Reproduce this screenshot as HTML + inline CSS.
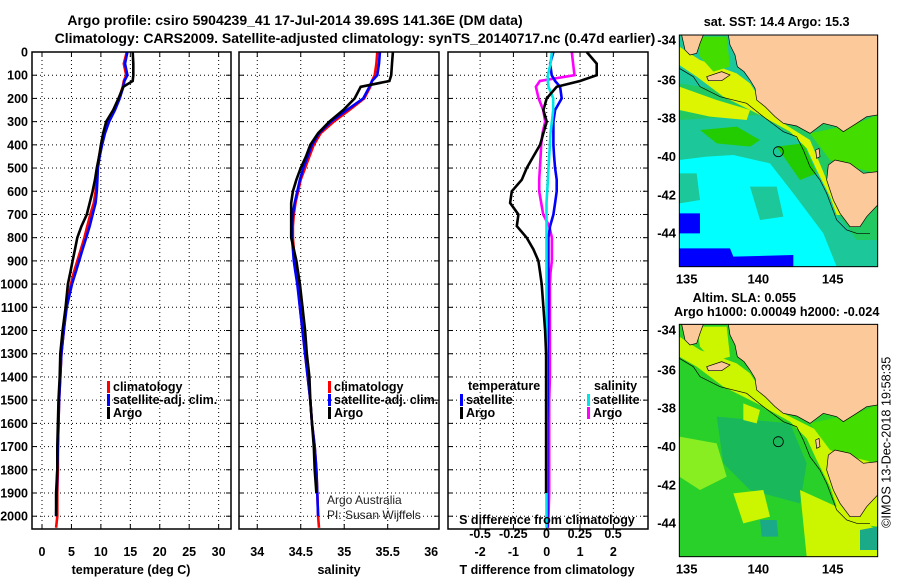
<!DOCTYPE html>
<html><head><meta charset="utf-8">
<style>
body{margin:0;background:#fff;}
#root{position:relative;width:900px;height:580px;overflow:hidden;background:#fff;font-family:"Liberation Sans",Arial,sans-serif;}
svg text{font-family:"Liberation Sans",Arial,sans-serif;}
</style></head>
<body>
<div id="root">
<svg id="main" width="900" height="580" style="position:absolute;left:0;top:0">
  <text x="295" y="25" text-anchor="middle" font-size="14" font-weight="bold">Argo profile: csiro 5904239_41 17-Jul-2014 39.69S 141.36E (DM data)</text>
  <text x="355" y="43" text-anchor="middle" font-size="14" font-weight="bold">Climatology: CARS2009. Satellite-adjusted climatology: synTS_20140717.nc (0.47d earlier)</text>
</svg>

<!-- SST map -->
<svg width="250" height="290" viewBox="0 0 750 870" style="position:absolute;left:650px;top:0">
  <defs><clipPath id="c1"><rect x="88" y="105" width="595" height="695"/></clipPath></defs>
  <g clip-path="url(#c1)">
    <rect x="88" y="105" width="595" height="695" fill="#00ffff"/>
    <polygon fill="#1cc79a" points="88,105 683,105 683,800 560,800 520,700 430,580 360,490 250,465 170,470 88,480"/>
    <polygon fill="#1cc79a" points="88,520 140,520 150,600 88,610"/>
    <polygon fill="#1cc79a" points="300,560 380,560 400,650 330,660"/>
    <polygon fill="#0000ff" points="88,745 240,745 250,770 430,765 430,800 88,800"/>
    <polygon fill="#0000ff" points="88,640 150,640 150,700 88,700"/>
    <polygon fill="#22c860" points="88,360 330,345 450,420 520,520 560,640 620,720 683,720 683,350 400,300 88,250"/>
    <polygon fill="#22cc00" points="150,390 260,380 330,420 300,440 200,430"/>
    <polygon fill="#22cc00" points="380,440 460,430 500,520 450,540"/>
    <polygon fill="#ddf500" points="88,195 140,230 220,290 330,345 420,395 470,445 500,510 540,590 560,645 575,645 555,600 530,540 480,420 400,370 345,320 300,250 260,220 150,180 88,140"/>
    <polygon fill="#ddf500" points="88,260 200,300 300,330 290,360 180,350 88,330"/>
    <polygon fill="#44dd00" points="480,400 620,370 683,345 683,520 600,500 540,480"/>
    <polygon fill="#44dd00" points="140,110 230,110 240,200 190,215 150,170"/>
    <polygon fill="#fbc99a" stroke="#000" stroke-width="2" points="235,105 240,135 255,165 262,200 282,215 300,240 315,265 320,300 345,320 375,350 400,370 440,378 480,400 500,385 520,370 560,380 580,395 620,370 650,350 683,345 683,105"/>
    <polygon fill="#fbc99a" stroke="#000" stroke-width="2" points="95,105 160,105 150,130 140,160 120,165 105,150"/>
    <polygon fill="#fbc99a" stroke="#000" stroke-width="2" points="170,230 215,215 240,225 215,242 175,242"/>
    <polygon fill="#fbc99a" stroke="#000" stroke-width="2" points="535,495 555,480 600,490 640,520 683,515 683,615 650,650 630,680 600,680 570,640 550,600 530,540"/>
    <polygon fill="#fbc99a" stroke="#000" stroke-width="2" points="497,450 507,445 510,470 500,475"/>
    <polyline fill="none" stroke="#000" stroke-width="2" points="88,205 130,230 150,260 210,290 290,310 340,350 400,395 440,410 460,450 480,500 510,540 530,580 545,620 560,660 590,690 620,700 660,700"/>
    <circle cx="385" cy="455" r="15" fill="none" stroke="#000" stroke-width="2.5"/>
  </g>
  <rect x="88" y="105" width="595" height="695" fill="none" stroke="#000" stroke-width="3"/>
  <g font-size="39" font-weight="bold" text-anchor="end">
    <text x="78" y="133">-34</text><text x="78" y="253">-36</text><text x="78" y="368">-38</text>
    <text x="78" y="483">-40</text><text x="78" y="598">-42</text><text x="78" y="713">-44</text>
  </g>
  <g font-size="39" font-weight="bold" text-anchor="middle">
    <text x="110" y="850">135</text><text x="325" y="850">140</text><text x="548" y="850">145</text>
  </g>
  <text x="380" y="78" font-size="38" font-weight="bold" text-anchor="middle">sat. SST: 14.4 Argo: 15.3</text>
</svg>

<!-- SLA map -->
<svg width="250" height="290" viewBox="0 0 750 870" style="position:absolute;left:650px;top:290px">
  <defs><clipPath id="c2"><rect x="88" y="103" width="595" height="697"/></clipPath></defs>
  <g clip-path="url(#c2)">
    <rect x="88" y="103" width="595" height="697" fill="#2ad02a"/>
    <polygon fill="#19b85a" points="200,380 420,400 470,520 450,640 300,600 220,520"/>
    <polygon fill="#88ee22" points="88,440 200,460 230,560 150,600 88,560"/>
    <polygon fill="#ccf500" points="88,200 140,230 220,290 330,345 420,395 470,445 500,510 540,590 560,650 600,700 683,710 683,530 600,480 540,470 500,420 400,370 345,320 300,250 260,220 150,180 88,140"/>
    <polygon fill="#ccf500" points="250,610 340,600 360,680 280,700"/>
    <polygon fill="#ccf500" points="450,600 560,650 683,720 683,800 470,800"/>
    <polygon fill="#ccf500" points="280,340 330,360 320,400 280,390"/>
    <polygon fill="#44dd00" points="480,400 620,370 683,345 683,520 600,500 540,480"/>
    <polygon fill="#1aaa88" points="330,690 380,690 385,740 335,740"/>
    <polygon fill="#1aaa88" points="630,720 683,710 683,780 630,780"/>
    <polygon fill="#ccf500" points="140,110 230,110 240,200 190,215 150,170"/>
    <polygon fill="#fbc99a" stroke="#000" stroke-width="2" points="235,103 240,135 255,165 262,200 282,215 300,240 315,265 320,300 345,320 375,350 400,370 440,378 480,400 500,385 520,370 560,380 580,395 620,370 650,350 683,345 683,103"/>
    <polygon fill="#fbc99a" stroke="#000" stroke-width="2" points="95,103 160,103 150,130 140,160 120,165 105,150"/>
    <polygon fill="#fbc99a" stroke="#000" stroke-width="2" points="170,230 215,215 240,225 215,242 175,242"/>
    <polygon fill="#fbc99a" stroke="#000" stroke-width="2" points="535,495 555,480 600,490 640,520 683,515 683,615 650,650 630,680 600,680 570,640 550,600 530,540"/>
    <polygon fill="#fbc99a" stroke="#000" stroke-width="2" points="497,450 507,445 510,470 500,475"/>
    <polyline fill="none" stroke="#000" stroke-width="2" points="88,205 130,230 150,260 210,290 290,310 340,350 400,395 440,410 460,450 480,500 510,540 530,580 545,620 560,660 590,690 620,700 660,700"/>
    <circle cx="385" cy="455" r="15" fill="none" stroke="#000" stroke-width="2.5"/>
  </g>
  <rect x="88" y="103" width="595" height="697" fill="none" stroke="#000" stroke-width="3"/>
  <g font-size="39" font-weight="bold" text-anchor="end">
    <text x="78" y="133">-34</text><text x="78" y="253">-36</text><text x="78" y="368">-38</text>
    <text x="78" y="483">-40</text><text x="78" y="598">-42</text><text x="78" y="713">-44</text>
  </g>
  <g font-size="39" font-weight="bold" text-anchor="middle">
    <text x="110" y="850">135</text><text x="325" y="850">140</text><text x="548" y="850">145</text>
  </g>
  <text x="283" y="36" font-size="38" font-weight="bold" text-anchor="middle">Altim. SLA: 0.055</text>
  <text x="380" y="78" font-size="38" font-weight="bold" text-anchor="middle">Argo h1000: 0.00049 h2000: -0.024</text>
  <text transform="translate(722,457) rotate(-90)" font-size="38" text-anchor="middle">©IMOS 13-Dec-2018 19:58:35</text>
</svg>
</div>

<script>
const depths = [0,50,100,125,150,200,250,300,350,400,450,500,550,600,650,700,750,800,850,900,950,1000,1100,1200,1300,1400,1500,1600,1700,1800,1900,2000,2050];
const tempClim = [14.4,13.9,14.3,13.9,13.7,13.1,12.3,11.3,10.6,10.1,9.7,9.4,9.3,9.1,8.8,8.2,7.7,7.2,6.6,6.0,5.4,4.9,4.1,3.7,3.3,3.1,2.9,2.8,2.7,2.7,2.6,2.6,2.4];
const tempSat = [14.5,14.1,14.5,14.0,13.8,13.2,12.4,11.4,10.7,10.2,9.8,9.5,9.4,9.3,9.1,8.6,8.1,7.5,6.9,6.3,5.7,5.1,4.2,3.7,3.3,3.1,2.9,2.8,2.7,2.6,2.5,2.4,null];
const tempArgo = [15.4,15.5,15.5,15.4,13.8,13.0,12.1,10.9,10.4,10.0,9.7,9.3,9.0,8.6,8.1,7.6,6.7,6.0,5.6,5.2,4.8,4.4,4.0,3.5,3.1,3.0,2.8,2.7,2.6,2.6,2.4,2.4,null];
const salClim = [35.38,35.37,35.35,35.32,35.30,35.23,35.06,34.88,34.73,34.65,34.60,34.55,34.50,34.47,34.44,34.42,34.41,34.41,34.42,34.43,34.45,34.47,34.49,34.52,34.55,34.58,34.61,34.63,34.66,34.68,34.69,34.70,34.71];
const salSat = [35.41,35.40,35.38,35.32,35.29,35.22,35.03,34.85,34.71,34.63,34.58,34.53,34.49,34.46,34.43,34.41,34.40,34.40,34.41,34.42,34.44,34.46,34.49,34.52,34.55,34.58,34.61,34.63,34.66,34.68,34.69,34.70,null];
const salArgo = [35.56,35.55,35.54,35.52,35.19,35.12,34.99,34.83,34.70,34.61,34.56,34.50,34.45,34.41,34.39,34.39,34.39,34.39,34.42,34.45,34.47,34.49,34.52,34.55,34.57,34.60,34.61,34.63,34.65,34.66,34.68,null,null];
const tDiffArgo = [1.2,1.5,1.5,1.0,0.3,0,-0.1,0,-0.1,-0.2,-0.4,-0.6,-0.75,-1.05,-1.1,-0.85,-0.9,-0.6,-0.4,-0.25,-0.2,-0.15,-0.1,-0.05,-0.02,-0.02,-0.02,-0.02,-0.02,-0.02,-0.02,null,null];
const tDiffSat = [0.2,0.1,0.15,0.25,0.4,0.45,0.25,0.2,0.2,0.2,0.22,0.25,0.3,0.3,0.25,0.2,0.1,0.05,0.05,0.05,0.05,0.05,0.05,0.04,0.03,0.03,0.03,0.02,0.02,0.02,0.02,0.02,0.02];
const sDiffArgo = [0.19,0.2,0.21,-0.05,-0.08,-0.06,-0.025,-0.01,-0.03,-0.04,-0.045,-0.05,-0.055,-0.055,-0.04,-0.025,0.02,0.04,0.04,0.04,0.03,0.025,0.025,0.025,0.025,0.025,0.02,0.02,0.02,0.02,0.02,0.015,0.01];
const sDiffSat = [0.04,0.03,0.01,0.01,0.015,0.05,0.05,0.04,0.03,0.025,0.02,0.015,0.01,0.005,0,0,0,0,0,0,0,0,0,0,0,0,0,0,0,0,0,0,0];
const depthTicks = [0,100,200,300,400,500,600,700,800,900,1000,1100,1200,1300,1400,1500,1600,1700,1800,1900,2000];
const tempTicks = [0,5,10,15,20,25,30];
const salTicks = [34,34.5,35,35.5,36];
const salGrid = [34,34.5,35,35.5];
const tDiffTicks = [-2,-1,0,1,2];
const sDiffTicks = [-0.5,-0.25,0,0.25,0.5];
const sDiffLabels = ['-0.5','-0.25','0','0.25','0.5'];

const NS='http://www.w3.org/2000/svg';
const svg=document.getElementById('main');
const yTop=52, yScale=0.2321, yBot=529;
function yD(d){return yTop+d*yScale;}
function mk(tag,attrs,parent){const e=document.createElementNS(NS,tag);for(const k in attrs)e.setAttribute(k,attrs[k]);(parent||svg).appendChild(e);return e;}
function lin(x0,x1,a,b){return v=>x0+(v-a)/(b-a)*(x1-x0);}
function txt(x,y,s,opt,name){const e=mk('text',Object.assign({x:x,y:y,'font-size':12,'font-weight':'bold'},opt||{}));e.textContent=s;


return e;}

const panels=[
 {x0:32,x1:231,sx:lin(32,231,-1.7,32.1),name:'temperature-panel'},
 {x0:239,x1:439,sx:lin(239,439,33.79,36.09),name:'salinity-panel'},
 {x0:448,x1:648,sx:lin(448,648,-2.964,3.04),name:'difference-panel'}
];
const sxS=lin(448,648,-0.741,0.763);

function grid(p,xs){
 const g=mk('g',{});
 
 
 xs.forEach(v=>{const x=p.sx(v);mk('line',{x1:x,x2:x,y1:yTop,y2:yBot,stroke:'#000','stroke-width':1,'stroke-dasharray':'1,3'},g);
   mk('line',{x1:x,x2:x,y1:yBot,y2:yBot-5,stroke:'#000'},g);mk('line',{x1:x,x2:x,y1:yTop,y2:yTop+5,stroke:'#000'},g);});
 depthTicks.forEach(d=>{const y=yD(d);mk('line',{x1:p.x0,x2:p.x1,y1:y,y2:y,stroke:'#000','stroke-width':1,'stroke-dasharray':'1,3'},g);
   mk('line',{x1:p.x0,x2:p.x0+5,y1:y,y2:y,stroke:'#000'},g);mk('line',{x1:p.x1,x2:p.x1-5,y1:y,y2:y,stroke:'#000'},g);});
}
function frame(p){const r=mk('rect',{x:p.x0,y:yTop,width:p.x1-p.x0,height:yBot-yTop,fill:'none',stroke:'#000','stroke-width':1.5});
 
 }
function series(vals,sx,color,name){
 let pts=[];
 vals.forEach((v,i)=>{if(v!==null)pts.push(sx(v).toFixed(1)+','+yD(depths[i]).toFixed(1));});
 const e=mk('polyline',{points:pts.join(' '),fill:'none',stroke:color,'stroke-width':2.6,'stroke-linejoin':'miter'});
 
 
}
function legend(x,y,color,label,name){
 const m=mk('rect',{x:x,y:y-10,width:3,height:12,fill:color});
 
 
 txt(x+6,y,label,{'font-size':12.5},name);
}

grid(panels[0],tempTicks);
grid(panels[1],salGrid);
grid(panels[2],tDiffTicks);

depthTicks.forEach(d=>{txt(28,yD(d)+4.5,String(d),{'text-anchor':'end','font-size':12.5},'depth-tick-label');});

series(tempClim,panels[0].sx,'#ff0000','temp-climatology-line');
series(tempSat,panels[0].sx,'#0000ff','temp-satellite-line');
series(tempArgo,panels[0].sx,'#000000','temp-argo-line');
tempTicks.forEach(v=>txt(panels[0].sx(v),556,String(v),{'text-anchor':'middle','font-size':12.5},'temp-tick-label'));
txt(131,574,'temperature (deg C)',{'text-anchor':'middle','font-size':12.5},'temp-axis-title');
legend(107,391,'#ff0000','climatology','legend-climatology');
legend(107,404,'#0000ff','satellite-adj. clim.','legend-satellite');
legend(107,417,'#000000','Argo','legend-argo');

series(salClim,panels[1].sx,'#ff0000','sal-climatology-line');
series(salSat,panels[1].sx,'#0000ff','sal-satellite-line');
series(salArgo,panels[1].sx,'#000000','sal-argo-line');
salTicks.forEach(v=>txt(panels[1].sx(v),556,String(v),{'text-anchor':'middle','font-size':12.5},'sal-tick-label'));
txt(339,574,'salinity',{'text-anchor':'middle','font-size':12.5},'sal-axis-title');
legend(328,391,'#ff0000','climatology','legend-climatology-sal');
legend(328,404,'#0000ff','satellite-adj. clim.','legend-satellite-sal');
legend(328,417,'#000000','Argo','legend-argo-sal');
txt(327,504,'Argo Australia',{'font-weight':'normal','font-size':12,fill:'#222'},'credit-argo-australia');
txt(327,519,'PI: Susan Wijffels',{'font-weight':'normal','font-size':12,fill:'#222'},'credit-pi');

series(sDiffArgo,sxS,'#ff00ff','s-diff-argo-line');
series(tDiffSat,panels[2].sx,'#0000ff','t-diff-satellite-line');
series(sDiffSat,sxS,'#00e5e5','s-diff-satellite-line');
series(tDiffArgo,panels[2].sx,'#000000','t-diff-argo-line');
tDiffTicks.forEach(v=>txt(panels[2].sx(v),556,String(v),{'text-anchor':'middle','font-size':12.5},'t-diff-tick-label'));
sDiffTicks.forEach((v,i)=>txt(sxS(v),538,sDiffLabels[i],{'text-anchor':'middle','font-size':12.5},'s-diff-tick-label'));
txt(547,524,'S difference from climatology',{'text-anchor':'middle','font-size':12.5},'s-diff-axis-title');
txt(547,574,'T difference from climatology',{'text-anchor':'middle','font-size':12.5},'t-diff-axis-title');
txt(468,390,'temperature',{'font-size':12.5},'legend-temperature-heading');
legend(460,404,'#0000ff','satellite','legend-t-satellite');
legend(460,417,'#000000','Argo','legend-t-argo');
txt(594,390,'salinity',{'font-size':12.5},'legend-salinity-heading');
legend(587,404,'#00e5e5','satellite','legend-s-satellite');
legend(587,417,'#ff00ff','Argo','legend-s-argo');

panels.forEach(frame);
</script>
</body></html>
